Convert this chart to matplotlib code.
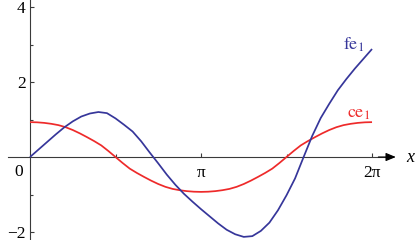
import numpy as np
import matplotlib
matplotlib.use("Agg")
import matplotlib.pyplot as plt

plt.rcParams['font.family'] = ['Liberation Serif', 'DejaVu Serif']
plt.rcParams['mathtext.fontset'] = 'stix'

# ---- data (x given in units of pi) ----
ce1_x = [i / 24 for i in range(49)]
ce1_y = [0.93, 0.925, 0.91, 0.885, 0.85, 0.795, 0.72, 0.63, 0.53, 0.425, 0.31, 0.16,
         0.0, -0.16, -0.31, -0.425, -0.53, -0.63, -0.72, -0.795, -0.85, -0.885, -0.91, -0.925,
         -0.93, -0.925, -0.91, -0.885, -0.85, -0.795, -0.72, -0.63, -0.53, -0.425, -0.31, -0.16,
         0.0, 0.16, 0.31, 0.425, 0.53, 0.63, 0.72, 0.795, 0.85, 0.885, 0.91, 0.925, 0.93]

fe1_x = [i / 20 for i in range(41)]
fe1_y = [0.00, 0.20, 0.40, 0.60, 0.79, 0.95, 1.08, 1.16, 1.20, 1.17,
         1.03, 0.86, 0.68, 0.42, 0.12, -0.17, -0.47, -0.74, -0.98, -1.19,
         -1.39, -1.58, -1.77, -1.94, -2.06, -2.13, -2.11, -1.97, -1.75, -1.42,
         -1.02, -0.57, 0.0, 0.56, 1.04, 1.42, 1.78, 2.08, 2.36, 2.62,
         2.88]

xtick_pos = [1, 2]            # in units of pi
xtick_labels = ['π', '2π']
xminor_pos = [0.5, 1.5]
ytick_pos = [-2, 2, 4]
ytick_labels = ['\u22122', '2', '4']
yminor_pos = [-1, 1, 3]

BLUE = '#36369a'
RED = '#ee2a2a'
AX = '#3a3a3a'

fig = plt.figure(figsize=(4.16, 2.4), dpi=100)
ax = fig.add_axes([0, 0, 1, 1])
ax.set_facecolor('white')
ax.set_xlim(-0.551, 7.091)
ax.set_ylim(-2.213, 4.187)

ax.plot(np.array(ce1_x) * np.pi, ce1_y, color=RED, lw=1.25, zorder=3,
        solid_capstyle='butt', solid_joinstyle='round')
ax.plot(np.array(fe1_x) * np.pi, fe1_y, color=BLUE, lw=1.25, zorder=4,
        solid_capstyle='butt', solid_joinstyle='round')

for s in ['top', 'right']:
    ax.spines[s].set_visible(False)
ax.spines['left'].set_position(('data', 0))
ax.spines['bottom'].set_position(('data', 0))
ax.spines['left'].set_color(AX)
ax.spines['bottom'].set_color(AX)
ax.spines['left'].set_linewidth(0.8)
ax.spines['bottom'].set_linewidth(0.8)
ax.spines['bottom'].set_bounds(-0.404, 6.65)

ax.annotate('', xy=(6.72, 0), xytext=(6.4, 0),
            arrowprops=dict(arrowstyle='-|>,head_length=0.6,head_width=0.25',
                            color='black', lw=0.8, shrinkA=0, shrinkB=0),
            annotation_clip=False)

ax.set_xticks(np.array(xtick_pos) * np.pi)
ax.set_xticklabels(xtick_labels)
ax.set_xticks(np.array(xminor_pos) * np.pi, minor=True)
ax.set_yticks(ytick_pos)
ax.set_yticklabels(ytick_labels)
ax.set_yticks(yminor_pos, minor=True)

ax.tick_params(axis='both', which='major', direction='in', length=3, width=0.8,
               color=AX, labelsize=12.5, labelcolor='black')
ax.tick_params(axis='both', which='minor', direction='in', length=2, width=0.8, color=AX)
ax.tick_params(axis='y', pad=3)
ax.tick_params(axis='x', pad=6)

ax.text(-0.2, -0.4, '0', ha='center', va='center', fontsize=12.5)
ax.text(6.981, 0.0, 'x', ha='center', va='center', fontsize=13, style='italic')
ax.text(5.953, 2.99, r'$\mathrm{fe}_1$', ha='center', va='center', fontsize=13, color=BLUE)
ax.text(6.045, 1.15, r'$\mathrm{ce}_1$', ha='center', va='center', fontsize=13, color=RED)

fig.savefig('out.png', dpi=100)
